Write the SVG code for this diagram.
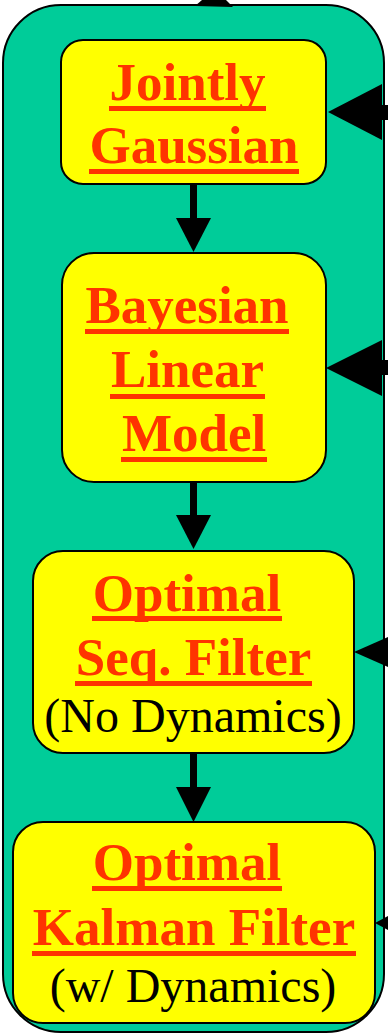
<svg xmlns="http://www.w3.org/2000/svg" width="388" height="1034" viewBox="0 0 388 1034">
<style>
.box{fill:#FFFF00;stroke:#000;stroke-width:2}
.t{font-family:"Liberation Serif","Times New Roman",serif;font-weight:bold;font-size:53px;fill:#FF3300;text-anchor:middle}
.s{font-family:"Liberation Serif","Times New Roman",serif;font-size:48px;fill:#000;text-anchor:middle}
.u{fill:#FF3300}
.a{fill:#000}
</style>
<rect x="3" y="5" width="381" height="1027" rx="58" ry="58" fill="#00CC99" stroke="#000" stroke-width="2"/>
<g id="connectors">
<polygon class="a" points="195,6 233,7 226,0 202,0"/>
<rect class="a" x="190" y="184" width="7" height="35"/>
<polygon class="a" points="176,218 211,218 193.5,252"/>
<rect class="a" x="190" y="482" width="7" height="34"/>
<polygon class="a" points="176,515 211,515 193.5,549"/>
<rect class="a" x="190" y="753" width="7" height="35"/>
<polygon class="a" points="176,787 211,787 193.5,822"/>
<rect class="a" x="381" y="105" width="7" height="15"/>
<polygon class="a" points="328,112 382,84 382,140"/>
<rect class="a" x="381" y="360" width="7" height="15"/>
<polygon class="a" points="326,368 382,340 382,396"/>
<polygon class="a" points="354,652 388,637 388,667"/>
<polygon class="a" points="375,923 388,916 388,930"/>
</g>
<g id="jointly-gaussian">
<rect class="box" x="61" y="40" width="265" height="144" rx="22"/>
<text class="t" x="187.5" y="100">Jointly</text>
<rect class="u" x="109" y="106" width="157" height="5"/>
<text class="t" x="194" y="163">Gaussian</text>
<rect class="u" x="89" y="169" width="210" height="5"/>
</g>
<g id="bayesian-linear-model">
<rect class="box" x="62" y="253" width="264" height="229" rx="32"/>
<text class="t" x="187" y="323">Bayesian</text>
<rect class="u" x="85" y="329" width="204" height="5"/>
<text class="t" x="187.5" y="387">Linear</text>
<rect class="u" x="110" y="394" width="155" height="5"/>
<text class="t" x="194" y="451">Model</text>
<rect class="u" x="121" y="457" width="146" height="5"/>
</g>
<g id="optimal-seq-filter">
<rect class="box" x="33" y="551" width="321" height="202" rx="30"/>
<text class="t" x="187" y="611">Optimal</text>
<rect class="u" x="92" y="616" width="190" height="5"/>
<text class="t" x="193.5" y="675">Seq. Filter</text>
<rect class="u" x="75" y="681" width="237" height="5"/>
<text class="s" x="193" y="732">(No Dynamics)</text>
</g>
<g id="optimal-kalman-filter">
<rect class="box" x="13" y="822" width="362" height="201" rx="30"/>
<text class="t" x="187" y="880">Optimal</text>
<rect class="u" x="92" y="886" width="190" height="5"/>
<text class="t" x="194" y="945">Kalman Filter</text>
<rect class="u" x="32" y="951" width="324" height="5"/>
<text class="s" x="193" y="1002">(w/ Dynamics)</text>
</g>
</svg>
